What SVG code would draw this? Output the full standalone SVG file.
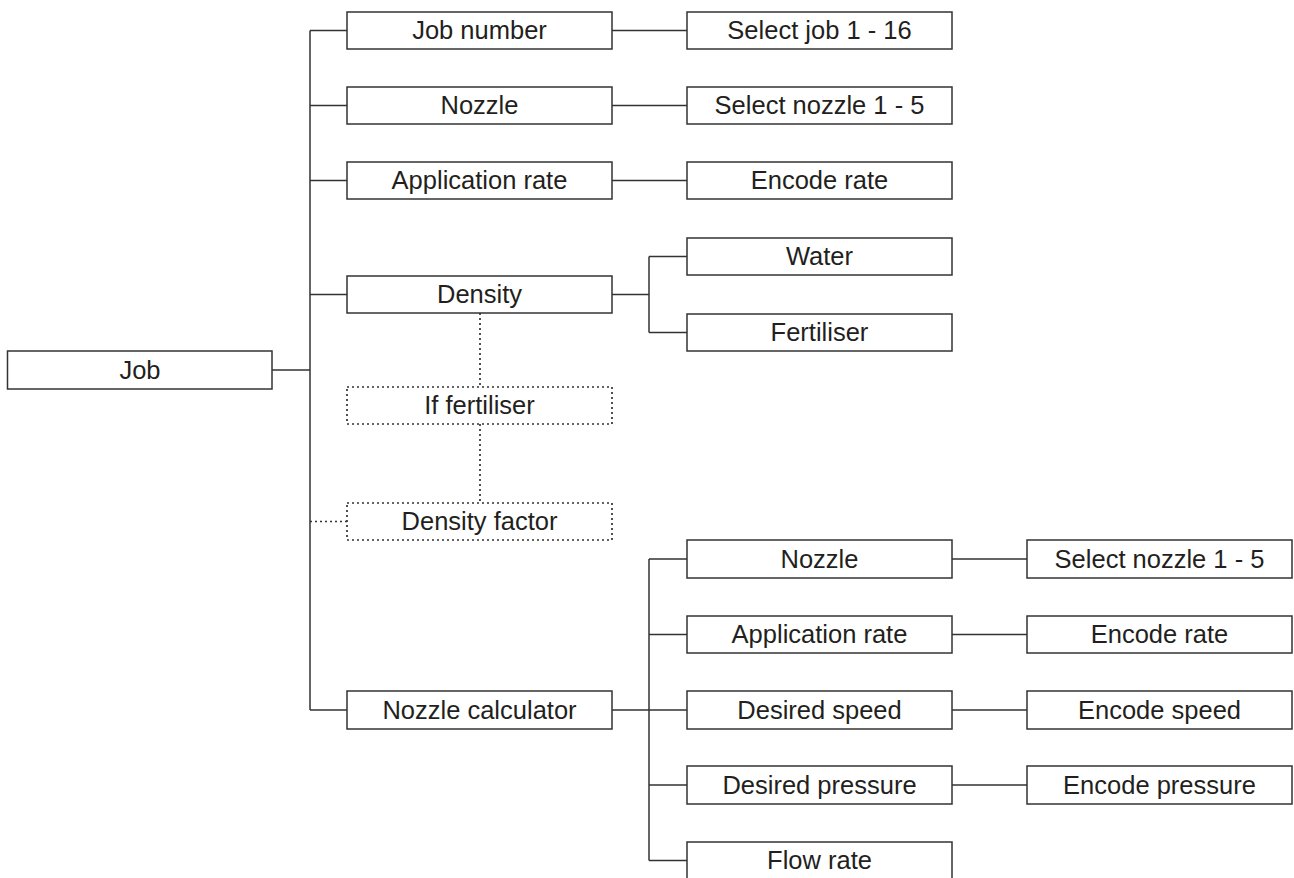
<svg xmlns="http://www.w3.org/2000/svg" width="1294" height="878" viewBox="0 0 1294 878">
<style>
.b{fill:#fff;stroke:#333;stroke-width:1.5}
.d{fill:#fff;stroke:#333;stroke-width:1.7;stroke-dasharray:2 3}
.t{font-family:"Liberation Sans",Arial,sans-serif;font-size:25.5px;fill:#231f20;text-anchor:middle}
.c{fill:none;stroke:#333;stroke-width:1.5}
.cd{fill:none;stroke:#333;stroke-width:1.7;stroke-dasharray:2 3}
</style>
<rect width="1294" height="878" fill="#fff"/>
<g id="connectors">
<path class="c" d="M272 370H310M310 30.5V710M310 30.5H347M310 105.5H347M310 180.5H347M310 294.5H347M310 710H347"/>
<path class="c" d="M612 30.5H687M612 105.5H687M612 180.5H687"/>
<path class="c" d="M612 294.5H649M649 256.5V332.5M649 256.5H687M649 332.5H687"/>
<path class="c" d="M612 710H687M649 559V860.5M649 559H687M649 634.5H687M649 785H687M649 860.5H687"/>
<path class="c" d="M952 559H1027M952 634.5H1027M952 710H1027M952 785H1027"/>
<path class="cd" d="M480 313V387M480 424V503M310 521.5H347"/>
</g>
<g id="job"><rect class="b" x="7.5" y="351" width="264.5" height="38"/><text class="t" x="140" y="379">Job</text></g>
<g id="job-number"><rect class="b" x="347" y="12" width="265" height="37"/><text class="t" x="479.5" y="39">Job number</text></g>
<g id="nozzle"><rect class="b" x="347" y="87" width="265" height="37"/><text class="t" x="479.5" y="114">Nozzle</text></g>
<g id="application-rate"><rect class="b" x="347" y="162" width="265" height="37"/><text class="t" x="479.5" y="189">Application rate</text></g>
<g id="density"><rect class="b" x="347" y="276" width="265" height="37"/><text class="t" x="479.5" y="303">Density</text></g>
<g id="if-fertiliser"><rect class="d" x="347" y="387" width="265" height="37"/><text class="t" x="479.5" y="414">If fertiliser</text></g>
<g id="density-factor"><rect class="d" x="347" y="503" width="265" height="37"/><text class="t" x="479.5" y="530">Density factor</text></g>
<g id="nozzle-calculator"><rect class="b" x="347" y="691" width="265" height="38"/><text class="t" x="479.5" y="719">Nozzle calculator</text></g>
<g id="select-job"><rect class="b" x="687" y="12" width="265" height="37"/><text class="t" x="819.5" y="39">Select job 1 - 16</text></g>
<g id="select-nozzle"><rect class="b" x="687" y="87" width="265" height="37"/><text class="t" x="819.5" y="114">Select nozzle 1 - 5</text></g>
<g id="encode-rate"><rect class="b" x="687" y="162" width="265" height="37"/><text class="t" x="819.5" y="189">Encode rate</text></g>
<g id="water"><rect class="b" x="687" y="238" width="265" height="37"/><text class="t" x="819.5" y="265">Water</text></g>
<g id="fertiliser"><rect class="b" x="687" y="314" width="265" height="37"/><text class="t" x="819.5" y="341">Fertiliser</text></g>
<g id="calc-nozzle"><rect class="b" x="687" y="540" width="265" height="38"/><text class="t" x="819.5" y="568">Nozzle</text></g>
<g id="calc-application-rate"><rect class="b" x="687" y="616" width="265" height="37"/><text class="t" x="819.5" y="643">Application rate</text></g>
<g id="desired-speed"><rect class="b" x="687" y="691" width="265" height="38"/><text class="t" x="819.5" y="719">Desired speed</text></g>
<g id="desired-pressure"><rect class="b" x="687" y="766" width="265" height="38"/><text class="t" x="819.5" y="794">Desired pressure</text></g>
<g id="flow-rate"><rect class="b" x="687" y="842" width="265" height="37"/><text class="t" x="819.5" y="869">Flow rate</text></g>
<g id="calc-select-nozzle"><rect class="b" x="1027" y="540" width="265" height="38"/><text class="t" x="1159.5" y="568">Select nozzle 1 - 5</text></g>
<g id="calc-encode-rate"><rect class="b" x="1027" y="616" width="265" height="37"/><text class="t" x="1159.5" y="643">Encode rate</text></g>
<g id="encode-speed"><rect class="b" x="1027" y="691" width="265" height="38"/><text class="t" x="1159.5" y="719">Encode speed</text></g>
<g id="encode-pressure"><rect class="b" x="1027" y="766" width="265" height="38"/><text class="t" x="1159.5" y="794">Encode pressure</text></g>
</svg>
